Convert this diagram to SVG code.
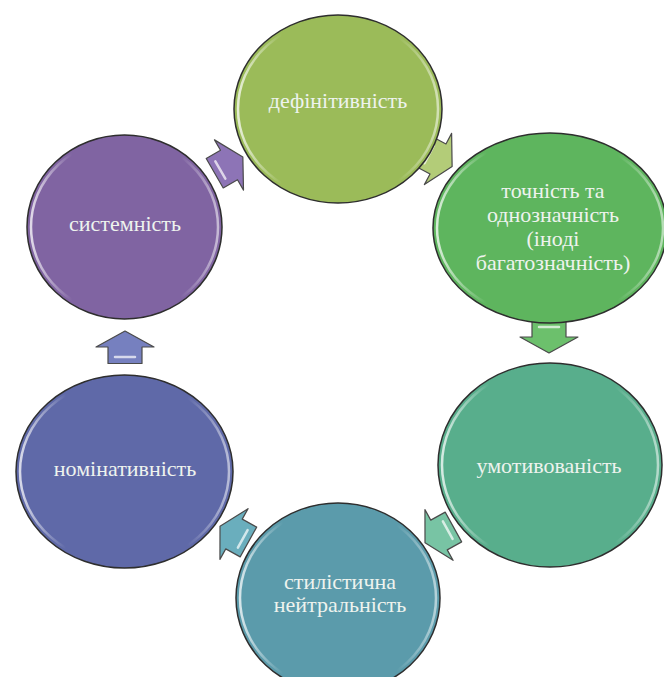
<svg xmlns="http://www.w3.org/2000/svg" width="664" height="677" viewBox="0 0 664 677">
  <defs>
    <linearGradient id="rim" x1="0" y1="0" x2="1" y2="0">
      <stop offset="0" stop-color="#ffffff" stop-opacity="0.75"/>
      <stop offset="0.22" stop-color="#ffffff" stop-opacity="0"/>
      <stop offset="0.8" stop-color="#ffffff" stop-opacity="0"/>
      <stop offset="1" stop-color="#ffffff" stop-opacity="0.55"/>
    </linearGradient>
    <polygon id="arr" points="-16.5,-17 0,-17 0,-29 16,0 0,29 0,17 -16.5,17"/>
  </defs>
  <style>
    .c { stroke: #2e2e2e; stroke-width: 1.5; }
    .rim { fill: none; stroke: url(#rim); stroke-width: 2.5; }
    .t { font-family: "Liberation Serif", "Times New Roman", serif; font-size: 22px; fill: #eef3ee; text-anchor: middle; }
    .a { stroke: #4a4a4a; stroke-width: 1.2; stroke-linejoin: round; }
    .hl { stroke: #ffffff; stroke-opacity: 0.7; stroke-width: 2.5; stroke-linecap: round; fill: none; }
  </style>
  <rect width="664" height="677" fill="#ffffff"/>

  <g id="connectors">
    <g transform="translate(229,165) rotate(-30)">
      <use href="#arr" class="a" fill="#8d74b6"/>
      <line class="hl" x1="-10" y1="-10" x2="-10" y2="10"/>
    </g>
    <g transform="translate(438,159) rotate(28)">
      <use href="#arr" class="a" fill="#b3cc78"/>
      <line class="hl" x1="-10" y1="-10" x2="-10" y2="10"/>
    </g>
    <g transform="translate(549,337) rotate(90)">
      <use href="#arr" class="a" fill="#6cc06c"/>
      <line class="hl" x1="-10" y1="-10" x2="-10" y2="10"/>
    </g>
    <g transform="translate(439,535) rotate(151)">
      <use href="#arr" class="a" fill="#78c4a4"/>
      <line class="hl" x1="-10" y1="-10" x2="-10" y2="10"/>
    </g>
    <g transform="translate(234,534) rotate(209)">
      <use href="#arr" class="a" fill="#6aaebd"/>
      <line class="hl" x1="-10" y1="-10" x2="-10" y2="10"/>
    </g>
    <g transform="translate(125,347) rotate(-90)">
      <use href="#arr" class="a" fill="#7680bf"/>
      <line class="hl" x1="-10" y1="-10" x2="-10" y2="10"/>
    </g>
  </g>

  <g id="node-definityvnist">
    <ellipse class="c" cx="338" cy="109" rx="104" ry="94" fill="#9bbb59"/>
    <ellipse class="rim" cx="338" cy="109" rx="100" ry="90"/>
    <text class="t" x="338" y="108">дефінітивність</text>
  </g>

  <g id="node-tochnist">
    <ellipse class="c" cx="550" cy="228" rx="117" ry="95" fill="#5eb55e"/>
    <ellipse class="rim" cx="550" cy="228" rx="113" ry="91"/>
    <text class="t" x="553" y="198">точність та</text>
    <text class="t" x="553" y="222">однозначність</text>
    <text class="t" x="553" y="246">(іноді</text>
    <text class="t" x="553" y="270">багатозначність)</text>
  </g>

  <g id="node-umotyvovanist">
    <ellipse class="c" cx="550" cy="465" rx="112" ry="102" fill="#58ae8c"/>
    <ellipse class="rim" cx="550" cy="465" rx="108" ry="98"/>
    <text class="t" x="549" y="473">умотивованість</text>
  </g>

  <g id="node-styl">
    <ellipse class="c" cx="338" cy="598" rx="102" ry="95" fill="#5b9bab"/>
    <ellipse class="rim" cx="338" cy="598" rx="98" ry="91"/>
    <text class="t" x="340" y="589">стилістична</text>
    <text class="t" x="340" y="612">нейтральність</text>
  </g>

  <g id="node-nominatyvnist">
    <ellipse class="c" cx="124.5" cy="471.5" rx="108.5" ry="96.5" fill="#5f69a8"/>
    <ellipse class="rim" cx="124.5" cy="471.5" rx="104.5" ry="92.5"/>
    <text class="t" x="125" y="476">номінативність</text>
  </g>

  <g id="node-systemnist">
    <ellipse class="c" cx="124.5" cy="227" rx="97.5" ry="92" fill="#8064a2"/>
    <ellipse class="rim" cx="124.5" cy="227" rx="93.5" ry="88"/>
    <text class="t" x="125" y="231">системність</text>
  </g>
</svg>
